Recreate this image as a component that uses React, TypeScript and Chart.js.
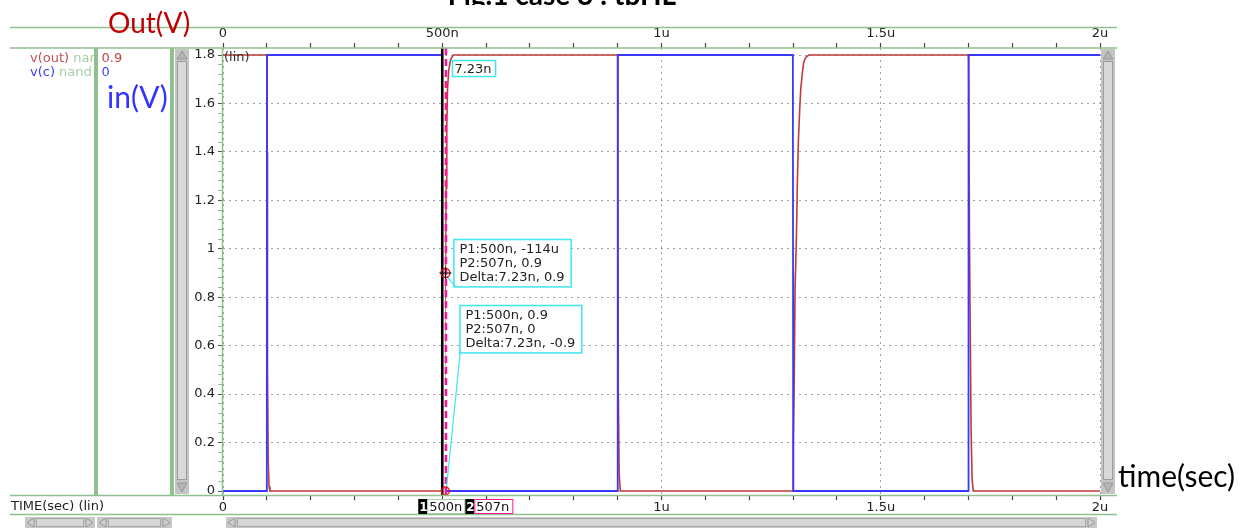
import React, { useEffect, useRef } from 'react';
import { Chart, registerables } from 'chart.js';

Chart.register(...registerables);

// v(c): gate input, time in ns and volts
const IN_TIME_NS = [0, 99.6, 100, 100.4, 499.6, 500, 500.4, 899.6, 900, 900.4, 1299.6, 1300, 1300.4, 1699.6, 1700, 1700.4, 2000];
const IN_VOLTS = [0, 0, 0.9, 1.8, 1.8, 0.9, 0, 0, 0.9, 1.8, 1.8, 0.9, 0, 0, 0.9, 1.8, 1.8];

// v(out): nand output
const OUT_TIME_NS = [
  0, 100, 100.6, 101.5, 103.2, 105, 107,
  500, 502, 504, 505.6, 507.23, 508.6, 510.2, 512, 515, 519, 525,
  900, 900.6, 901.5, 903.5, 906,
  1300, 1300.4, 1301, 1302.3, 1304.6, 1307.8, 1310, 1312.3, 1315.3, 1317.6, 1321.5, 1324.4, 1329, 1336,
  1700, 1700.5, 1702.3, 1706, 1708.3, 1711, 2000,
];
const OUT_VOLTS = [
  1.8, 1.8, 1.4, 0.5, 0.12, 0.02, 0,
  -0.000114, 0.2, 0.45, 0.65, 0.9, 1.25, 1.5, 1.66, 1.74, 1.78, 1.8,
  1.8, 1.3, 0.41, 0.07, 0,
  0, 0.05, 0.2, 0.4, 0.83, 1.06, 1.29, 1.45, 1.58, 1.66, 1.73, 1.77, 1.79, 1.8,
  1.8, 1.78, 1.05, 0.26, 0.05, 0, 0,
];

// axis ticks
const X_MAJOR_NS = [0, 500, 1000, 1500, 2000];
const X_MAJOR_LABELS = ['0', '500n', '1u', '1.5u', '2u'];
const X_MINOR_STEP_NS = 100;
const Y_MAJOR_V = [0, 0.2, 0.4, 0.6, 0.8, 1, 1.2, 1.4, 1.6, 1.8];
const Y_MAJOR_LABELS = ['0', '0.2', '0.4', '0.6', '0.8', '1', '1.2', '1.4', '1.6', '1.8'];
const Y_MINOR_STEP_V = 0.04;

// measurement cursors and readouts
const CURSOR1_NS = 500;
const CURSOR2_NS = 507.23;
const OUT_MARK_V = 0.9;
const IN_MARK_V = 0;
const DELTA_TEXT = '7.23n';
const OUT_READOUT = ['P1:500n, -114u', 'P2:507n, 0.9', 'Delta:7.23n, 0.9'];
const IN_READOUT = ['P1:500n, 0.9', 'P2:507n, 0', 'Delta:7.23n, -0.9'];
const CURSOR1_TAG = '500n';
const CURSOR2_TAG = '507n';

// legend rows
const LEGEND_ROWS = [
  { name: 'v(out)', group: 'nand', value: '0.9', nameColor: '#c05252', valueColor: '#c24444' },
  { name: 'v(c)', group: 'nand', value: '0', nameColor: '#3d3dff', valueColor: '#3d3dff' },
];

const BLUE = '#3838ff';
const RED = '#c03a3a';
const GREEN = '#8fc08f';
const PALE_GREEN = '#a6cfa6';
const CYAN = '#3ee6ee';
const PINK = '#ff1493';
const UI_FONT = '13px "DejaVu Sans"';

const xMinorTicks: number[] = [];
for (let v = 0; v <= 2000 + 1e-6; v += X_MINOR_STEP_NS) xMinorTicks.push(Math.round(v));
const yMinorTicks: number[] = [];
for (let i = 0; i * Y_MINOR_STEP_V <= 1.8 + 1e-6; i++) yMinorTicks.push(+(i * Y_MINOR_STEP_V).toFixed(2));

const xLabel = (v: number) => {
  const i = X_MAJOR_NS.indexOf(Math.round(v));
  return i >= 0 ? X_MAJOR_LABELS[i] : '';
};
const yMajorIndex = (v: number) => Y_MAJOR_V.findIndex((m) => Math.abs(m - v) < 1e-6);

function hLine(ctx: CanvasRenderingContext2D, x1: number, x2: number, y: number) {
  ctx.beginPath();
  ctx.moveTo(x1, y);
  ctx.lineTo(x2, y);
  ctx.stroke();
}
function vLine(ctx: CanvasRenderingContext2D, x: number, y1: number, y2: number) {
  ctx.beginPath();
  ctx.moveTo(x, y1);
  ctx.lineTo(x, y2);
  ctx.stroke();
}
function tri(ctx: CanvasRenderingContext2D, pts: number[][], fill: string) {
  ctx.beginPath();
  ctx.moveTo(pts[0][0], pts[0][1]);
  ctx.lineTo(pts[1][0], pts[1][1]);
  ctx.lineTo(pts[2][0], pts[2][1]);
  ctx.closePath();
  ctx.fillStyle = fill;
  ctx.fill();
  ctx.strokeStyle = '#999';
  ctx.lineWidth = 1;
  ctx.stroke();
}

function readoutBox(ctx: CanvasRenderingContext2D, x: number, y: number, lines: string[], lineH: number) {
  ctx.font = UI_FONT;
  const w = Math.max(...lines.map((t) => ctx.measureText(t).width)) + 12;
  const h = lines.length * lineH + 6;
  ctx.fillStyle = '#fff';
  ctx.fillRect(x, y, w, h);
  ctx.strokeStyle = CYAN;
  ctx.lineWidth = 1.5;
  ctx.strokeRect(x + 0.5, y + 0.5, w, h);
  ctx.fillStyle = '#222';
  ctx.textAlign = 'left';
  ctx.textBaseline = 'alphabetic';
  lines.forEach((t, i) => ctx.fillText(t, x + 6, y + 14 + i * lineH));
  return { w, h };
}

function vScrollbar(ctx: CanvasRenderingContext2D, x: number, y1: number, y2: number, w: number) {
  ctx.fillStyle = '#c4c4c4';
  ctx.fillRect(x, y1, w, y2 - y1);
  ctx.fillStyle = '#d8d8d8';
  ctx.fillRect(x + 2, y1 + 12, w - 4, y2 - y1 - 26);
  ctx.strokeStyle = '#9c9c9c';
  ctx.lineWidth = 1;
  ctx.strokeRect(x + 2.5, y1 + 12.5, w - 5, y2 - y1 - 27);
  const cx = x + w / 2;
  tri(ctx, [[cx, y1 + 2], [x + 2, y1 + 10], [x + w - 2, y1 + 10]], '#b4b4b4');
  tri(ctx, [[cx, y2 - 2], [x + 2, y2 - 11], [x + w - 2, y2 - 11]], '#b4b4b4');
}

function hScrollbar(ctx: CanvasRenderingContext2D, x1: number, x2: number, y: number, h: number) {
  ctx.fillStyle = '#c8c8c8';
  ctx.fillRect(x1, y, x2 - x1, h);
  ctx.fillStyle = '#d6d6d6';
  ctx.fillRect(x1 + 11, y + 1, x2 - x1 - 22, h - 2);
  ctx.strokeStyle = '#a8a8a8';
  ctx.lineWidth = 1;
  ctx.strokeRect(x1 + 11.5, y + 1.5, x2 - x1 - 23, h - 3);
  tri(ctx, [[x1 + 2, y + h / 2], [x1 + 9, y + 1], [x1 + 9, y + h - 1]], '#d0d0d0');
  tri(ctx, [[x2 - 2, y + h / 2], [x2 - 9, y + 1], [x2 - 9, y + h - 1]], '#d0d0d0');
}

const overlay = {
  id: 'waveOverlay',
  beforeDraw(chart: any) {
    const { ctx, width, height } = chart;
    ctx.save();
    ctx.fillStyle = '#fff';
    ctx.fillRect(0, 0, width, height);
    ctx.restore();
  },
  afterDatasetsDraw(chart: any) {
    const { ctx, chartArea: a, scales } = chart;
    const xs = scales.x;
    const ys = scales.y;
    const c1 = xs.getPixelForValue(CURSOR1_NS);
    const c2 = xs.getPixelForValue(CURSOR2_NS);
    ctx.save();

    // scale mode tag
    ctx.font = UI_FONT;
    ctx.fillStyle = '#333';
    ctx.textBaseline = 'alphabetic';
    ctx.fillText('(lin)', a.left + 1, ys.getPixelForValue(1.8) + 6);

    // cursor 1 (solid) and cursor 2 (dashed)
    ctx.strokeStyle = '#fff';
    ctx.lineWidth = 2;
    vLine(ctx, (c1 + c2) / 2 + 0.3, a.top, a.bottom);
    ctx.strokeStyle = '#000';
    ctx.lineWidth = 2.6;
    vLine(ctx, c1, a.top, a.bottom);
    ctx.strokeStyle = PINK;
    ctx.lineWidth = 2.6;
    ctx.setLineDash([7, 4]);
    vLine(ctx, c2 + 0.5, a.top, a.bottom);
    ctx.setLineDash([]);

    // delta label at the top
    const topY = ys.getPixelForValue(1.8);
    ctx.font = UI_FONT;
    const dw = ctx.measureText(DELTA_TEXT).width + 6;
    ctx.fillStyle = '#fff';
    ctx.fillRect(c2 + 6.5, topY + 5, dw, 16);
    ctx.strokeStyle = CYAN;
    ctx.lineWidth = 1.5;
    ctx.strokeRect(c2 + 7, topY + 5.5, dw, 16);
    ctx.fillStyle = '#222';
    ctx.fillText(DELTA_TEXT, c2 + 9, topY + 18);

    // readout for v(out)
    const yOut = ys.getPixelForValue(OUT_MARK_V);
    const b1x = c2 + 8;
    const b1y = yOut - 34;
    const b1 = readoutBox(ctx, b1x, b1y, OUT_READOUT, 13.8);
    ctx.strokeStyle = CYAN;
    ctx.lineWidth = 1.2;
    ctx.beginPath();
    ctx.moveTo(b1x + 2, b1y + b1.h);
    ctx.lineTo(c2 + 1, yOut + 3);
    ctx.stroke();

    // readout for v(c)
    const yIn = ys.getPixelForValue(IN_MARK_V);
    const b2x = c2 + 14;
    const b2y = yOut + 32;
    const b2 = readoutBox(ctx, b2x, b2y, IN_READOUT, 13.8);
    ctx.strokeStyle = CYAN;
    ctx.lineWidth = 1.2;
    ctx.beginPath();
    ctx.moveTo(b2x + 1, b2y + b2.h - 2);
    ctx.lineTo(c2 + 1, yIn - 3);
    ctx.stroke();

    // measured points
    ctx.lineWidth = 1.3;
    ctx.strokeStyle = '#d01010';
    ctx.beginPath();
    ctx.arc(c2, yOut, 4.5, 0, Math.PI * 2);
    ctx.stroke();
    ctx.strokeStyle = '#000';
    ctx.lineWidth = 1;
    hLine(ctx, c2 - 6, c2 + 6, yOut);
    vLine(ctx, c2, yOut - 6, yOut + 6);
    ctx.strokeStyle = '#e01010';
    ctx.lineWidth = 1.3;
    ctx.beginPath();
    ctx.arc(c2, yIn, 4, 0, Math.PI * 2);
    ctx.stroke();
    ctx.restore();
  },
  afterDraw(chart: any) {
    const { ctx, chartArea: a, scales } = chart;
    const xs = scales.x;
    const c1 = xs.getPixelForValue(CURSOR1_NS);
    ctx.save();

    // frame and separators
    ctx.strokeStyle = GREEN;
    ctx.lineWidth = 1.5;
    hLine(ctx, 10, 1117, 27.5);
    hLine(ctx, 10, 1117, a.top);
    hLine(ctx, 10, 1117, a.bottom + 0.5);
    hLine(ctx, 10, 1117, 514.5);
    vLine(ctx, a.left - 0.5, a.top, a.bottom);

    // legend
    ctx.font = UI_FONT;
    ctx.textBaseline = 'alphabetic';
    ctx.textAlign = 'left';
    const rowY = [62, 75.5];
    LEGEND_ROWS.forEach((r, i) => {
      ctx.fillStyle = r.nameColor;
      ctx.fillText(r.name, 30, rowY[i]);
      const nw = ctx.measureText(r.name + ' ').width;
      ctx.save();
      ctx.beginPath();
      ctx.rect(0, 40, 94, 60);
      ctx.clip();
      ctx.fillStyle = PALE_GREEN;
      ctx.fillText(r.group, 30 + nw, rowY[i]);
      ctx.restore();
      ctx.fillStyle = r.valueColor;
      ctx.fillText(r.value, 101.5, rowY[i]);
    });

    // panel dividers
    ctx.fillStyle = GREEN;
    ctx.fillRect(94, a.top, 4, a.bottom - a.top);
    ctx.fillRect(170, a.top, 4, a.bottom - a.top);

    // scrollbars
    vScrollbar(ctx, 175, a.top + 1, a.bottom - 1, 14);
    vScrollbar(ctx, a.right + 1, a.top + 1, a.bottom - 1, 14);
    hScrollbar(ctx, 25, 95, 517, 11);
    hScrollbar(ctx, 97, 172, 517, 11);
    hScrollbar(ctx, a.left + 3, a.right - 3, 517, 11);

    // time axis caption
    ctx.fillStyle = '#222';
    ctx.font = UI_FONT;
    ctx.fillText('TIME(sec) (lin)', 11, 510);

    // cursor tags
    const tagY = 499;
    const tagH = 15;
    let tx = c1 - 24;
    ctx.fillStyle = '#000';
    ctx.fillRect(tx, tagY, 9, tagH);
    ctx.fillStyle = '#fff';
    ctx.font = 'bold 12px "DejaVu Sans"';
    ctx.fillText('1', tx + 1, tagY + 12);
    tx += 9;
    ctx.font = UI_FONT;
    let w = ctx.measureText(CURSOR1_TAG).width + 5;
    ctx.fillStyle = '#fff';
    ctx.fillRect(tx, tagY, w, tagH);
    ctx.strokeStyle = PALE_GREEN;
    ctx.lineWidth = 1;
    ctx.strokeRect(tx + 0.5, tagY + 0.5, w - 1, tagH - 1);
    ctx.fillStyle = '#111';
    ctx.fillText(CURSOR1_TAG, tx + 2, tagY + 12);
    tx += w;
    ctx.fillStyle = '#000';
    ctx.fillRect(tx, tagY, 9, tagH);
    ctx.fillStyle = '#fff';
    ctx.font = 'bold 12px "DejaVu Sans"';
    ctx.fillText('2', tx + 1, tagY + 12);
    tx += 9;
    ctx.font = UI_FONT;
    w = ctx.measureText(CURSOR2_TAG).width + 6;
    ctx.fillStyle = '#fff';
    ctx.fillRect(tx, tagY, w, tagH);
    ctx.strokeStyle = PINK;
    ctx.strokeRect(tx + 0.5, tagY + 0.5, w - 1, tagH - 1);
    ctx.fillStyle = '#111';
    ctx.fillText(CURSOR2_TAG, tx + 2, tagY + 12);

    ctx.restore();
  },
};

export default function App() {
  const canvasRef = useRef<HTMLCanvasElement>(null);

  useEffect(() => {
    const canvas = canvasRef.current;
    if (!canvas) return;
    const tickFont = { family: 'DejaVu Sans', size: 13 };
    const chart = new Chart(canvas, {
      type: 'line',
      data: {
        datasets: [
          {
            label: 'v(c)',
            data: IN_TIME_NS.map((t, i) => ({ x: t, y: IN_VOLTS[i] })),
            borderColor: BLUE,
            borderWidth: 1.8,
            pointRadius: 0,
            tension: 0,
            order: 0,
          },
          {
            label: 'v(out)',
            data: OUT_TIME_NS.map((t, i) => ({ x: t, y: OUT_VOLTS[i] })),
            borderColor: RED,
            borderWidth: 1.6,
            pointRadius: 0,
            tension: 0,
            order: 1,
          },
        ],
      },
      options: {
        responsive: false,
        animation: false,
        events: [],
        layout: { padding: { left: 0, right: 159, top: 0, bottom: 0 } },
        plugins: { legend: { display: false }, tooltip: { enabled: false } },
        scales: {
          x: {
            type: 'linear',
            position: 'bottom',
            min: 0,
            max: 2000,
            afterFit: (s: any) => { s.height = 36; },
            afterBuildTicks: (s: any) => { s.ticks = xMinorTicks.map((v) => ({ value: v })); },
            ticks: { autoSkip: false, maxRotation: 0, padding: 0, color: '#222', font: tickFont, callback: (v: any) => xLabel(+v) },
            grid: { drawOnChartArea: false, tickLength: 5, tickColor: '#444', tickWidth: 1.2 },
            border: { display: false },
          },
          xTop: {
            type: 'linear',
            position: 'top',
            min: 0,
            max: 2000,
            afterFit: (s: any) => { s.height = 48; },
            afterBuildTicks: (s: any) => { s.ticks = xMinorTicks.map((v) => ({ value: v })); },
            ticks: { autoSkip: false, maxRotation: 0, padding: 2, color: '#222', font: tickFont, callback: (v: any) => xLabel(+v) },
            grid: {
              drawOnChartArea: true,
              color: (c: any) => (c.tick && xLabel(c.tick.value) !== '' ? '#a0a0a0' : 'rgba(0,0,0,0)'),
              lineWidth: 1,
              tickLength: 5,
              tickColor: '#444',
              tickWidth: 1.2,
            },
            border: { display: false, dash: [2, 4] },
          },
          y: {
            type: 'linear',
            min: -0.0165,
            max: 1.829,
            afterFit: (s: any) => { s.width = 223; },
            afterBuildTicks: (s: any) => { s.ticks = yMinorTicks.map((v) => ({ value: v })); },
            ticks: {
              autoSkip: false,
              padding: 3,
              color: '#222',
              font: tickFont,
              callback: (v: any) => {
                const i = yMajorIndex(+v);
                return i >= 0 ? Y_MAJOR_LABELS[i] : '';
              },
            },
            grid: {
              drawOnChartArea: true,
              color: (c: any) => (c.tick && yMajorIndex(c.tick.value) > 0 ? '#a0a0a0' : 'rgba(0,0,0,0)'),
              lineWidth: 1,
              tickLength: 5,
              tickColor: (c: any) => (c.tick && yMajorIndex(c.tick.value) >= 0 ? '#555' : GREEN),
              tickWidth: 1,
            },
            border: { display: false, dash: [2, 4] },
          },
        },
      } as any,
      plugins: [overlay],
    });
    return () => chart.destroy();
  }, []);

  const big = { position: 'absolute' as const, fontFamily: 'Lato, "Open Sans", sans-serif', lineHeight: 1, whiteSpace: 'nowrap' as const };

  return (
    <div style={{ position: 'fixed', left: 0, top: 0, width: 1259, height: 531, background: '#fff', overflow: 'hidden' }}>
      <canvas ref={canvasRef} width={1259} height={531} style={{ position: 'absolute', left: 0, top: 0, display: 'block' }} />
      <div style={{ position: 'absolute', left: 362, top: 0, width: 400, height: 5, overflow: 'hidden' }}>
        <div style={{ ...big, left: 0, top: -20.5, width: 400, textAlign: 'center', fontWeight: 700, fontSize: 28, color: '#000' }}>
          Fig.1 case 3 : tpHL
        </div>
      </div>
      <div style={{ ...big, left: 108, top: 8, fontSize: 28, color: '#c00000' }}>Out(V)</div>
      <div style={{ ...big, left: 107, top: 81, fontSize: 30, color: '#3333ff' }}>in(V)</div>
      <div style={{ ...big, left: 1118, top: 460, fontSize: 30, color: '#000' }}>time(sec)</div>
    </div>
  );
}
